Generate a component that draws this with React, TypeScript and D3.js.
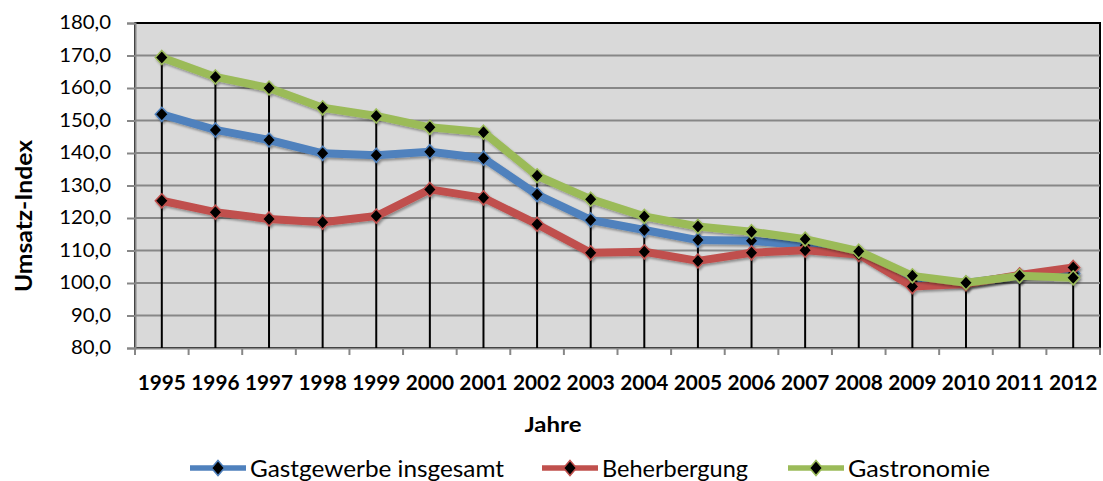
import React, { useEffect, useRef } from 'react';
import * as d3 from 'd3';

const years = ['1995', '1996', '1997', '1998', '1999', '2000', '2001', '2002', '2003', '2004', '2005', '2006', '2007', '2008', '2009', '2010', '2011', '2012'];

const gastgewerbe = [151.9, 147.1, 144.0, 139.9, 139.3, 140.4, 138.4, 127.2, 119.4, 116.3, 113.2, 113.0, 111.5, 109.3, 100.6, 100.0, 102.2, 102.9];
const beherbergung = [125.3, 121.8, 119.7, 118.7, 120.6, 128.8, 126.2, 118.1, 109.3, 109.6, 106.8, 109.3, 110.1, 108.8, 98.9, 99.7, 102.5, 104.8];
const gastronomie = [169.4, 163.4, 160.0, 153.9, 151.4, 147.9, 146.4, 133.0, 125.8, 120.5, 117.4, 115.8, 113.5, 109.8, 102.2, 100.1, 102.2, 101.6];

const yTicks = [80, 90, 100, 110, 120, 130, 140, 150, 160, 170, 180];

const seriesNames = ['Gastgewerbe insgesamt', 'Beherbergung', 'Gastronomie'];
const seriesColors = ['#4F81BD', '#C0504D', '#9BBB59'];

const diamond = (w: number, h: number) => `M0,${-h}L${w},0L0,${h}L${-w},0Z`;

// stretch text horizontally by factor k (the reference font is narrower/wider)
const stretch = (sel: d3.Selection<any, any, any, any>, k: number) => {
  sel.each(function () {
    const el = this as SVGTextElement;
    const len = el.getComputedTextLength();
    d3.select(el).attr('textLength', len * k).attr('lengthAdjust', 'spacingAndGlyphs');
  });
};

const App: React.FC = () => {
  const svgRef = useRef<SVGSVGElement | null>(null);

  useEffect(() => {
    const svg = d3.select(svgRef.current);
    svg.selectAll('*').remove();
    const width = 1103;
    const height = 481;
    const margin = { top: 23, right: 3, bottom: 133, left: 135 };
    const font = 'Lato, "Open Sans", sans-serif';

    svg.attr('width', width).attr('height', height);

    const series = [gastgewerbe, beherbergung, gastronomie];

    const x = d3.scaleBand()
      .domain(years)
      .range([margin.left, width - margin.right]);

    const y = d3.scaleLinear()
      .domain([80, 180])
      .range([height - margin.bottom, margin.top]);

    const cx = (d: string) => (x(d) as number) + x.bandwidth() / 2;

    const defs = svg.append('defs');
    const shadow = defs.append('filter').attr('id', 'shadow')
      .attr('x', '-5%').attr('y', '-5%').attr('width', '110%').attr('height', '120%');
    shadow.append('feDropShadow')
      .attr('dx', 1.5).attr('dy', 2).attr('stdDeviation', 1.2)
      .attr('flood-color', '#000').attr('flood-opacity', 0.35);

    // Plot area
    svg.append('rect')
      .attr('x', margin.left)
      .attr('y', margin.top)
      .attr('width', width - margin.left - margin.right)
      .attr('height', height - margin.top - margin.bottom)
      .attr('fill', '#D9D9D9')
      .attr('stroke', '#000')
      .attr('stroke-width', 2);

    // Gridlines
    svg.append('g')
      .selectAll('line')
      .data(yTicks.slice(1, -1))
      .enter()
      .append('line')
      .attr('x1', margin.left)
      .attr('x2', width - margin.right)
      .attr('y1', d => y(d))
      .attr('y2', d => y(d))
      .attr('stroke', '#878787')
      .attr('stroke-width', 2);

    // Y axis
    const yAxis = svg.append('g')
      .attr('transform', `translate(${margin.left},0)`)
      .call(d3.axisLeft(y).tickValues(yTicks).tickSize(8).tickPadding(16)
        .tickFormat(d => d3.format('.1f')(d as number).replace('.', ',')));
    yAxis.select('.domain').attr('stroke', '#878787').attr('stroke-width', 2);
    yAxis.selectAll('.tick line').attr('stroke', '#878787').attr('stroke-width', 2);
    const yLabels = yAxis.selectAll('.tick text')
      .attr('font-family', font)
      .attr('font-size', 18.5)
      .attr('fill', '#000');
    stretch(yLabels, 1.1);

    // X axis
    const xAxis = svg.append('g')
      .attr('transform', `translate(0,${height - margin.bottom})`)
      .call(d3.axisBottom(x).tickSize(0).tickPadding(28));
    xAxis.select('.domain').attr('stroke', '#878787').attr('stroke-width', 2);
    const xLabels = xAxis.selectAll('.tick text')
      .attr('font-family', font)
      .attr('font-size', 20)
      .attr('font-weight', 'bold')
      .attr('fill', '#000');
    stretch(xLabels, 1.04);

    // X tick marks at band edges
    svg.append('g')
      .selectAll('line')
      .data(years.concat(['end']))
      .enter()
      .append('line')
      .attr('x1', (d, i) => margin.left + i * x.bandwidth())
      .attr('x2', (d, i) => margin.left + i * x.bandwidth())
      .attr('y1', height - margin.bottom)
      .attr('y2', height - margin.bottom + 7)
      .attr('stroke', '#878787')
      .attr('stroke-width', 2);

    // Drop lines
    svg.append('g')
      .selectAll('line')
      .data(years)
      .enter()
      .append('line')
      .attr('x1', d => cx(d))
      .attr('x2', d => cx(d))
      .attr('y1', (d, i) => y(d3.max(series, s => s[i]) as number))
      .attr('y2', height - margin.bottom)
      .attr('stroke', '#000')
      .attr('stroke-width', 2);

    // Series lines and markers
    const line = d3.line<number>()
      .x((d, i) => cx(years[i]))
      .y(d => y(d));

    series.forEach((s, si) => {
      const g = svg.append('g').attr('filter', 'url(#shadow)');
      g.append('path')
        .datum(s)
        .attr('d', line)
        .attr('fill', 'none')
        .attr('stroke', seriesColors[si])
        .attr('stroke-width', 8)
        .attr('stroke-linejoin', 'round');
      g.selectAll('path.marker')
        .data(s)
        .enter()
        .append('path')
        .attr('class', 'marker')
        .attr('d', diamond(6.5, 7))
        .attr('transform', (d, i) => `translate(${cx(years[i])},${y(d)})`)
        .attr('fill', '#000')
        .attr('stroke', seriesColors[si])
        .attr('stroke-width', 1.5);
    });

    // Axis titles
    svg.append('text')
      .attr('text-anchor', 'middle')
      .attr('transform', `translate(32,216) rotate(-90)`)
      .attr('font-family', font)
      .attr('font-size', 23)
      .attr('font-weight', 'bold')
      .attr('textLength', 152)
      .attr('lengthAdjust', 'spacingAndGlyphs')
      .text('Umsatz-Index');

    svg.append('text')
      .attr('text-anchor', 'middle')
      .attr('x', 553)
      .attr('y', 432)
      .attr('font-family', font)
      .attr('font-size', 21)
      .attr('font-weight', 'bold')
      .attr('textLength', 57)
      .attr('lengthAdjust', 'spacingAndGlyphs')
      .text('Jahre');

    // Legend
    const legendX = [190, 542, 788];
    const legendW = [254, 146, 142];
    const legend = svg.append('g');
    seriesNames.forEach((name, i) => {
      const lg = legend.append('g').attr('transform', `translate(${legendX[i]},468)`);
      lg.append('line')
        .attr('x1', 0).attr('x2', 56)
        .attr('y1', 0).attr('y2', 0)
        .attr('stroke', seriesColors[i])
        .attr('stroke-width', 5.5);
      lg.append('path')
        .attr('d', diamond(6.5, 7.5))
        .attr('transform', 'translate(28,0)')
        .attr('fill', '#000')
        .attr('stroke', seriesColors[i])
        .attr('stroke-width', 1.5);
      lg.append('text')
        .attr('x', 60)
        .attr('y', 9)
        .attr('font-family', font)
        .attr('font-size', 24)
        .attr('textLength', legendW[i])
        .attr('lengthAdjust', 'spacingAndGlyphs')
        .text(name);
    });
  }, []);

  return (
    <svg ref={svgRef} style={{ position: 'absolute', left: 0, top: 0, background: '#fff' }}></svg>
  );
};

export default App;
